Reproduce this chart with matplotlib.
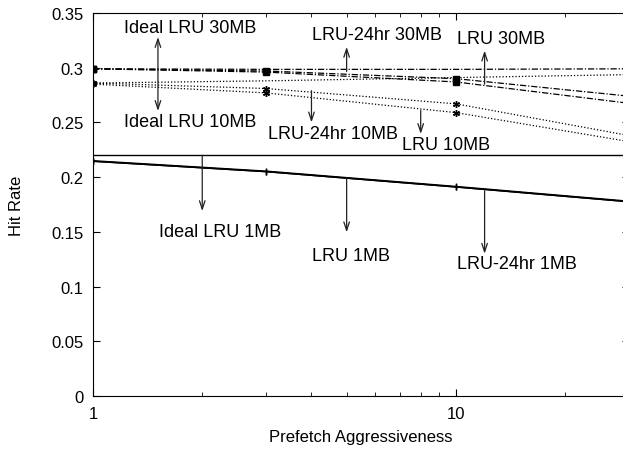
import matplotlib
matplotlib.use('Agg')
import matplotlib.pyplot as plt
from matplotlib.ticker import FixedLocator, NullFormatter

plt.rcParams['font.family'] = ['Liberation Sans', 'DejaVu Sans']

# данные
x_pts = [1, 3, 10, 30]

ideal_30 = [0.299, 0.2985, 0.2985, 0.299]
lru24_30 = [0.299, 0.297, 0.290, 0.274]
lru_30 = [0.299, 0.296, 0.287, 0.2675]

ideal_10 = [0.286, 0.288, 0.291, 0.2937]
lru24_10 = [0.286, 0.281, 0.267, 0.238]
lru_10 = [0.285, 0.277, 0.259, 0.2325]

ideal_1 = [0.2150, 0.2055, 0.1915, 0.1780]
lru_1 = [0.2145, 0.2050, 0.1910, 0.1775]
lru24_1 = [0.2145, 0.2050, 0.1910, 0.1775]

y_ticks = [0, 0.05, 0.1, 0.15, 0.2, 0.25, 0.3, 0.35]
y_tick_labels = ['0', '0.05', '0.1', '0.15', '0.2', '0.25', '0.3', '0.35']
x_ticks = [1, 10]
x_minor = [2, 3, 4, 5, 6, 7, 8, 9, 20, 30]

# подписи: текст, (x, y) текста, x стрелки, начало и конец стрелки
labels = [
    ('Ideal LRU 30MB', 1.85, 0.337, 1.51, 0.299, 0.328),
    ('Ideal LRU 10MB', 1.85, 0.2505, 1.51, 0.299, 0.2605),
    ('LRU-24hr 30MB', 6.06, 0.330, 5.0, 0.2965, 0.319),
    ('LRU 30MB', 13.3, 0.327, 12.0, 0.285, 0.3156),
    ('LRU-24hr 10MB', 4.58, 0.2395, 4.0, 0.279, 0.250),
    ('LRU 10MB', 9.39, 0.2297, 8.0, 0.261, 0.2395),
    ('Ideal LRU 1MB', 2.24, 0.150, 2.0, 0.22, 0.169),
    ('LRU 1MB', 5.14, 0.128, 5.0, 0.199, 0.1496),
    ('LRU-24hr 1MB', 14.7, 0.1207, 12.0, 0.1877, 0.130),
]

dashdot = (0, (5, 1.5, 1, 1.5))
dotted = (0, (1, 1.6))

fig = plt.figure(figsize=(6.23, 4.52), dpi=100)
ax = fig.add_axes([93 / 623, 55 / 452, 536 / 623, 383 / 452])

# 30MB (у Ideal маркер только в первой точке)
ax.plot(x_pts, ideal_30, color='black', linestyle=dashdot, linewidth=0.9,
        marker='s', markersize=5, markevery=[0])
for y in [lru24_30, lru_30]:
    ax.plot(x_pts, y, color='black', linestyle=dashdot, linewidth=0.9,
            marker='s', markersize=5)
# 10MB
ax.plot(x_pts, ideal_10, color='black', linestyle=dotted, linewidth=0.9,
        marker=(6, 2, 0), markersize=5, markevery=[0])
for y in [lru24_10, lru_10]:
    ax.plot(x_pts, y, color='black', linestyle=dotted, linewidth=0.9,
            marker=(6, 2, 0), markersize=5)
# 1MB
for y in [ideal_1, lru_1, lru24_1]:
    ax.plot(x_pts, y, color='black', linestyle='-', linewidth=1.0,
            marker='|', markersize=5)

# разделительная линия
ax.axhline(0.22, color='black', linewidth=1.0)

for text, tx, ty, ax_x, y0, y1 in labels:
    ax.annotate('', xy=(ax_x, y1), xytext=(ax_x, y0),
                arrowprops=dict(arrowstyle='->,head_length=0.6,head_width=0.2',
                                color='#222222', lw=0.9, shrinkA=0, shrinkB=0))
    ax.text(tx, ty, text, ha='center', va='center', fontsize=13)

ax.set_xscale('log')
ax.set_xlim(1, 30)
ax.set_ylim(0, 0.35)
ax.xaxis.set_major_locator(FixedLocator(x_ticks))
ax.xaxis.set_minor_locator(FixedLocator(x_minor))
ax.xaxis.set_minor_formatter(NullFormatter())
ax.set_xticklabels(['1', '10'])
ax.set_yticks(y_ticks)
ax.set_yticklabels(y_tick_labels)
ax.tick_params(direction='in', top=True, right=True, which='both',
               labelsize=12, pad=7)
ax.tick_params(which='major', length=5)
ax.tick_params(which='minor', length=3)

ax.set_xlabel('Prefetch Aggressiveness', fontsize=12)
ax.set_ylabel('Hit Rate', fontsize=12)
ax.xaxis.set_label_coords(0.5, -0.087)
ax.yaxis.set_label_coords(-0.128, 0.5)

fig.savefig('out.png', dpi=100)
